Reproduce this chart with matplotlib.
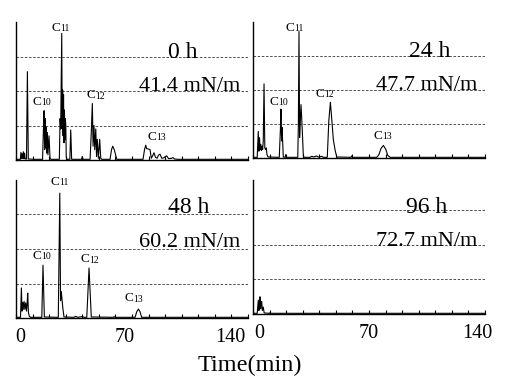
"""Four GC traces (0, 24, 48, 96 h) with surface tension values."""
import numpy as np
import matplotlib
matplotlib.use('Agg')
import matplotlib.pyplot as plt


# Chromatogram traces: (time in min, signal).
trace_0h = [(-2.5, 0.02), (0.2, 0.02), (0.6, 0.22), (1.0, 0.04), (1.4, 0.18),
            (1.8, 0.05), (2.2, 0.24), (2.6, 0.04), (3.0, 0.2), (3.4, 0.03),
            (4.3, 0.03), (4.9, 2.56), (5.5, 0.03), (10, 0.02), (15.0, 0.02),
            (15.6, 0.9), (16.0, 1.43), (16.4, 0.3), (16.8, 1.2), (17.1, 0.35),
            (17.5, 0.95), (17.8, 0.2), (18.2, 0.8), (18.6, 0.15), (19.3, 0.7),
            (20.0, 0.05), (20.6, 0.02), (26.2, 0.02), (26.7, 1.2), (27.1, 0.9),
            (27.8, 3.67), (28.1, 0.9), (28.4, 2.03), (28.7, 0.7), (29.0, 1.9),
            (29.3, 0.5), (29.6, 1.45), (29.9, 0.6), (30.2, 1.2), (30.5, 1.0),
            (30.8, 0.1), (31.2, 0.02), (33.2, 0.02), (33.8, 0.87), (34.4, 0.02),
            (41.0, 0.02), (41.5, 0.1), (42.0, 0.02), (46.7, 0.02), (47.5, 0.8),
            (48.2, 1.64), (48.7, 0.4), (49.3, 1.0), (49.8, 0.3), (50.5, 0.9),
            (51.0, 0.1), (51.5, 0.6), (52.2, 0.05), (53.1, 0.6), (53.8, 0.05),
            (54.5, 0.02), (60.0, 0.02), (61.0, 0.3), (61.8, 0.4), (62.8, 0.3),
            (64.5, 0.02), (82.0, 0.02), (83.0, 0.3), (83.8, 0.43), (84.4, 0.33),
            (85.5, 0.32), (86.7, 0.3), (87.5, 0.05), (88.4, 0.12), (89.3, 0.21),
            (90.3, 0.08), (91.4, 0.05), (92.3, 0.14), (93.3, 0.17), (94.5, 0.05),
            (95.8, 0.06), (96.8, 0.1), (97.8, 0.12), (99.0, 0.04), (101.0, 0.05),
            (102.0, 0.07), (103.0, 0.03), (105.0, 0.02), (152, 0.02)]

trace_24h = [(-4.2, 0.02), (-1.5, 0.02), (-0.8, 0.78), (-0.4, 0.2), (0.0, 0.6),
             (0.4, 0.25), (0.8, 0.4), (1.2, 0.22), (1.6, 0.35), (2.0, 0.25),
             (2.4, 0.5), (2.9, 2.18), (3.4, 0.3), (3.8, 0.25), (4.3, 0.3),
             (4.8, 0.1), (5.5, 0.03), (12.7, 0.02), (13.4, 0.8), (13.8, 1.44),
             (14.2, 0.5), (14.5, 0.9), (15.3, 0.03), (16.5, 0.02), (16.9, 0.1),
             (17.3, 0.02), (24.6, 0.02), (25.0, 1.0), (25.4, 3.72), (25.8, 0.6),
             (26.3, 1.2), (26.7, 1.57), (27.2, 1.12), (27.8, 0.5), (28.2, 0.05),
             (29.0, 0.02), (32.5, 0.02), (33.5, 0.05), (35.0, 0.03), (36.5, 0.06),
             (38.0, 0.03), (40.0, 0.05), (41.0, 0.02), (43.6, 0.02), (44.6, 1.1),
             (45.6, 1.64), (46.5, 1.13), (47.5, 0.54), (48.6, 0.24), (49.7, 0.03),
             (58.8, 0.02), (59.3, 0.06), (59.8, 0.02), (75.5, 0.02), (76.8, 0.1),
             (78.2, 0.28), (79.7, 0.37), (81.2, 0.26), (82.5, 0.08), (84.0, 0.02),
             (145, 0.02)]

trace_48h = [(-2.5, 0.02), (0.3, 0.02), (0.9, 0.87), (1.3, 0.2), (1.7, 0.45),
             (2.1, 0.25), (2.7, 0.48), (3.2, 0.25), (3.8, 0.44), (4.3, 0.2),
             (4.7, 0.4), (5.1, 0.72), (5.6, 0.15), (6.2, 0.05), (7.0, 0.02),
             (14.5, 0.02), (15.3, 1.53), (16.2, 0.03), (25.5, 0.02), (26.5, 3.62),
             (27.0, 0.5), (27.5, 0.77), (28.5, 0.3), (29.3, 0.03), (36.0, 0.02),
             (37.0, 0.05), (38.5, 0.02), (41.5, 0.04), (42.7, 0.02), (44.5, 0.02),
             (46.0, 1.45), (47.5, 0.03), (62.2, 0.02), (62.7, 0.04), (63.2, 0.02),
             (76.7, 0.02), (77.8, 0.18), (78.9, 0.26), (80.0, 0.18), (81.1, 0.02),
             (152, 0.02)]

trace_96h = [(-4.2, 0.02), (-1.5, 0.02), (-0.8, 0.4), (-0.4, 0.1), (0.0, 0.3),
             (0.3, 0.5), (0.7, 0.15), (1.0, 0.3), (1.4, 0.36), (1.8, 0.1),
             (2.4, 0.2), (3.0, 0.03), (6.5, 0.02), (6.8, 0.04), (7.1, 0.02),
             (17.2, 0.02), (17.5, 0.03), (17.8, 0.02), (145, 0.02)]

times_h = ['0 h', '24 h', '48 h', '96 h']
tension = ['41.4 mN/m', '47.7 mN/m', '60.2 mN/m', '72.7 mN/m']
xtick_vals = [0, 70, 140]

# peak labels per panel: (carbon number, x, y)
peaks_0h = [('10', 15.3, 1.68), ('11', 28.0, 3.83), ('12', 51.3, 1.88), ('13', 92.0, 0.67)]
peaks_24h = [('10', 13.6, 1.66), ('11', 23.9, 3.83), ('12', 43.2, 1.89), ('13', 80.3, 0.66)]
peaks_48h = [('10', 15.6, 1.81), ('11', 27.8, 3.95), ('12', 47.8, 1.70), ('13', 77.1, 0.57)]
peaks_96h = []

plt.rcParams['font.family'] = 'serif'
plt.rcParams['font.serif'] = ['Liberation Serif', 'DejaVu Serif']

W, H = 512, 380
fig = plt.figure(figsize=(W / 100, H / 100), dpi=100)


def px_axes(x0, y0, x1, y1):
    """Add axes from pixel box (top-left origin)."""
    return fig.add_axes([x0 / W, 1 - y1 / H, (x1 - x0) / W, (y1 - y0) / H])


def clabel(ax, num, x, y):
    t = ax.annotate('C', xy=(x, y), xytext=(-1.5, 0), textcoords='offset points',
                    ha='right', va='center', fontsize=9.5)
    ax.annotate(num, xy=(1, 0.05), xycoords=t, ha='left', va='bottom',
                fontsize=7)


panels = [
    # box, xlim, ylim, trace, peaks, (x, y) of hour text, (x, y) of tension text
    ((16, 22, 248, 160), (-2.7, 152), (0, 4.0), trace_0h, peaks_0h,
     (108.7, 3.13), (113.3, 2.14)),
    ((253, 22, 485, 158), (-4.2, 145.1), (0, 4.0), trace_24h, peaks_24h,
     (109.7, 3.13), (107.8, 2.13)),
    ((16, 180, 248, 318), (-2.7, 152), (0, 4.0), trace_48h, peaks_48h,
     (112.7, 3.19), (113.3, 2.20)),
    ((253, 180, 485, 314), (-4.2, 145.1), (0, 3.88), trace_96h, peaks_96h,
     (107.7, 3.07), (107.8, 2.09)),
]

for i, (box, xlim, ylim, trace, peaks, hpos, tpos) in enumerate(panels):
    ax = px_axes(*box)
    t, s = np.array(trace).T
    ax.plot(t, s, color='black', lw=0.8)
    ax.set_xlim(*xlim)
    ax.set_ylim(*ylim)
    for sp in ['top', 'right']:
        ax.spines[sp].set_visible(False)
    ax.spines['left'].set_linewidth(1.0)
    ax.spines['bottom'].set_linewidth(1.0)
    ax.set_yticks([1, 2, 3])
    ax.yaxis.grid(True, color='#333333', lw=0.6, ls=(0, (3, 2)))
    ax.tick_params(axis='y', left=False, labelleft=False)
    ax.set_xticks(np.linspace(xlim[0], xlim[1], 15), minor=True)
    ax.tick_params(axis='x', which='both', direction='in', length=3, width=0.8)
    if i >= 2:
        ax.set_xticks(xtick_vals)
        ax.set_xticklabels([str(v) for v in xtick_vals])
        ax.tick_params(axis='x', which='major', length=0, labelsize=14.5, pad=7)
    else:
        ax.set_xticks([])
    ax.text(*hpos, times_h[i], ha='center', va='center', fontsize=17)
    ax.text(*tpos, tension[i], ha='center', va='center', fontsize=16)
    for num, x, y in peaks:
        clabel(ax, num, x, y)

fig.text(250 / W, 1 - 365 / H, 'Time(min)', ha='center', va='center', fontsize=17.5)

fig.savefig('out.png', dpi=100)
